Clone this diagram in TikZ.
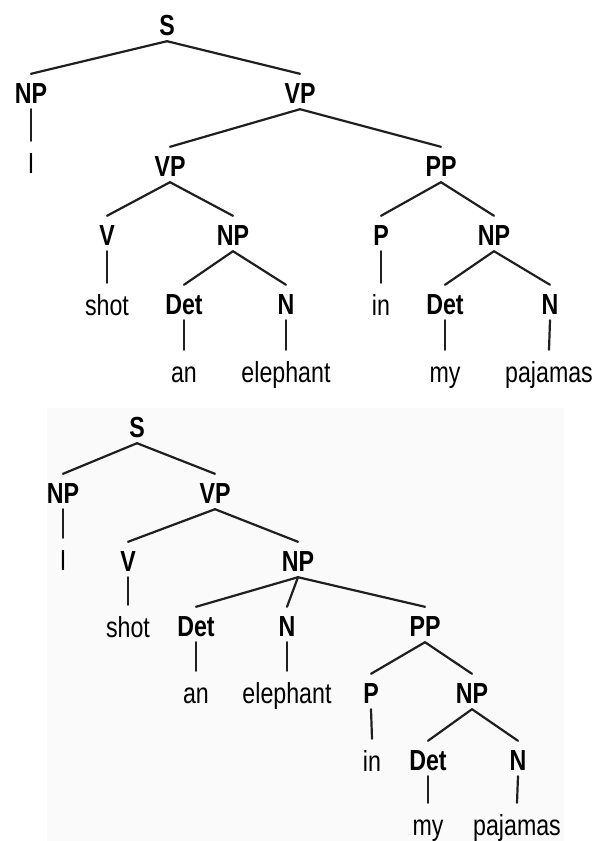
\documentclass[tikz,border=0pt]{standalone}
\usepackage{fontspec}
\setmainfont{Liberation Sans}[FakeStretch=0.8]
\definecolor{bgfaint}{RGB}{250,250,250}
\begin{document}
\begin{tikzpicture}[x=1pt,y=-1pt,
  cat/.style={font=\fontsize{29}{30}\selectfont\bfseries, anchor=base, inner sep=0pt, text height=29pt, text depth=6pt},
  word/.style={font=\fontsize{29}{30}\selectfont, anchor=base, inner sep=0pt, text height=32pt, text depth=0pt},
  edge/.style={line width=2.2pt, line cap=round, color=black!88}]
\useasboundingbox (0,0) rectangle (601,841);
\fill[bgfaint] (47,408) rectangle (564,841);
% ---------- top tree ----------
\node[cat] (tS) at (167,35) {S};
\node[cat] (tNP1) at (31,103) {NP};
\node[word] (tI) at (31,173) {I};
\node[cat] (tVP1) at (300,103) {VP};
\node[cat] (tVP2) at (170,176) {VP};
\node[cat] (tPP) at (441,176) {PP};
\node[cat] (tV) at (107,245) {V};
\node[cat] (tNP2) at (233,245) {NP};
\node[word] (tshot) at (107,315) {shot};
\node[cat] (tDet1) at (184,314) {Det};
\node[cat] (tN1) at (286,314) {N};
\node[word] (tan) at (184,382) {an};
\node[word] (teleph) at (286,382) {elephant};
\node[cat] (tP) at (381,245) {P};
\node[cat] (tNP3) at (494,245) {NP};
\node[word] (tin) at (381,315) {in};
\node[cat] (tDet2) at (445,314) {Det};
\node[cat] (tN2) at (550,314) {N};
\node[word] (tmy) at (445,382) {my};
\node[word] (tpaj) at (549,382) {pajamas};
\draw[edge] (tS.south) -- (tNP1.north);
\draw[edge] (tS.south) -- (tVP1.north);
\draw[edge] (tNP1.south) -- (tI.north);
\draw[edge] (tVP1.south) -- (tVP2.north);
\draw[edge] (tVP1.south) -- (tPP.north);
\draw[edge] (tVP2.south) -- (tV.north);
\draw[edge] (tVP2.south) -- (tNP2.north);
\draw[edge] (tV.south) -- (tshot.north);
\draw[edge] (tNP2.south) -- (tDet1.north);
\draw[edge] (tNP2.south) -- (tN1.north);
\draw[edge] (tDet1.south) -- (tan.north);
\draw[edge] (tN1.south) -- (teleph.north);
\draw[edge] (tPP.south) -- (tP.north);
\draw[edge] (tPP.south) -- (tNP3.north);
\draw[edge] (tP.south) -- (tin.north);
\draw[edge] (tNP3.south) -- (tDet2.north);
\draw[edge] (tNP3.south) -- (tN2.north);
\draw[edge] (tDet2.south) -- (tmy.north);
\draw[edge] (tN2.south) -- (tpaj.north);
% ---------- bottom tree ----------
\node[cat] (bS) at (137,437) {S};
\node[cat] (bNP1) at (63,503) {NP};
\node[cat] (bVP) at (215,503) {VP};
\node[word] (bI) at (63,570) {I};
\node[cat] (bV) at (128,571) {V};
\node[cat] (bNP2) at (298,571) {NP};
\node[word] (bshot) at (128,637) {shot};
\node[cat] (bDet1) at (196,636) {Det};
\node[cat] (bN1) at (287,636) {N};
\node[cat] (bPP) at (425,636) {PP};
\node[word] (ban) at (196,703) {an};
\node[word] (beleph) at (287,703) {elephant};
\node[cat] (bP) at (371,703) {P};
\node[cat] (bNP3) at (472,703) {NP};
\node[word] (bin) at (372,771) {in};
\node[cat] (bDet2) at (428,770) {Det};
\node[cat] (bN2) at (518,770) {N};
\node[word] (bmy) at (428,835) {my};
\node[word] (bpaj) at (517,835) {pajamas};
\draw[edge] (bS.south) -- (bNP1.north);
\draw[edge] (bS.south) -- (bVP.north);
\draw[edge] (bNP1.south) -- (bI.north);
\draw[edge] (bVP.south) -- (bV.north);
\draw[edge] (bVP.south) -- (bNP2.north);
\draw[edge] (bV.south) -- (bshot.north);
\draw[edge] (bNP2.south) -- (bDet1.north);
\draw[edge] (bNP2.south) -- (bN1.north);
\draw[edge] (bNP2.south) -- (bPP.north);
\draw[edge] (bDet1.south) -- (ban.north);
\draw[edge] (bN1.south) -- (beleph.north);
\draw[edge] (bPP.south) -- (bP.north);
\draw[edge] (bPP.south) -- (bNP3.north);
\draw[edge] (bP.south) -- (bin.north);
\draw[edge] (bNP3.south) -- (bDet2.north);
\draw[edge] (bNP3.south) -- (bN2.north);
\draw[edge] (bDet2.south) -- (bmy.north);
\draw[edge] (bN2.south) -- (bpaj.north);
\end{tikzpicture}
\end{document}
